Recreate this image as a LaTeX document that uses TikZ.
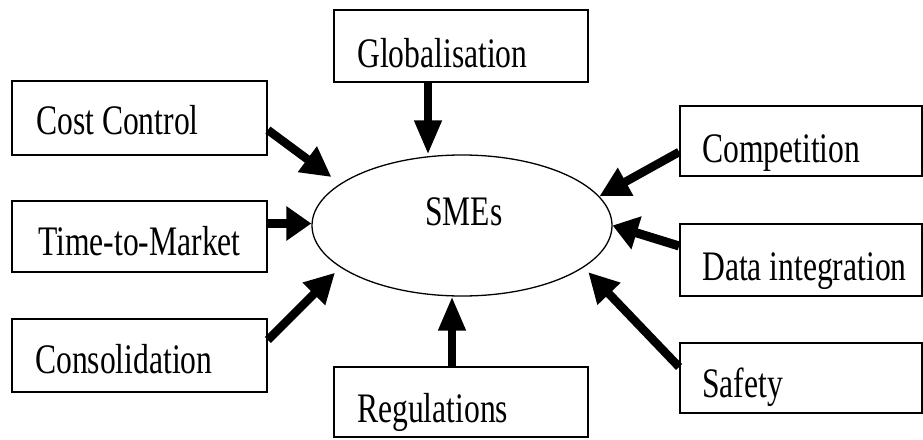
\documentclass[tikz,border=0pt]{standalone}
\usepackage{fontspec}
\setmainfont{Liberation Serif}
\usetikzlibrary{arrows.meta,shapes.geometric}
\newcommand{\stretchtxt}[1]{\scalebox{1}[1.33]{#1}}
\begin{document}
\begin{tikzpicture}[x=1pt,y=1pt,
  box/.style={draw,line width=1.8pt,rectangle,inner sep=0pt},
  lbl/.style={anchor=base west,inner sep=0pt,font=\fontsize{31.6}{36}\selectfont},
  hor/.style={line width=9pt,-{Triangle[length=25pt,width=33pt]}},
  ver/.style={line width=7.5pt,-{Triangle[length=34pt,width=26pt]}},
  dia/.style={line width=8.5pt,-{Triangle[length=30pt,width=30pt]}}]
\useasboundingbox (0,0) rectangle (923,-439);
% boxes
\node[box,minimum width=254pt,minimum height=72pt] (glob) at (461,-46) {};
\node[box,minimum width=255pt,minimum height=74pt] (cc) at (139.5,-118) {};
\node[box,minimum width=255pt,minimum height=71pt] (ttm) at (139.5,-236.5) {};
\node[box,minimum width=255pt,minimum height=73pt] (cons) at (139.5,-355.5) {};
\node[box,minimum width=254pt,minimum height=70pt] (reg) at (461,-402) {};
\node[box,minimum width=242pt,minimum height=70pt] (comp) at (801,-141) {};
\node[box,minimum width=242pt,minimum height=72pt] (di) at (801,-260) {};
\node[box,minimum width=242pt,minimum height=70pt] (safe) at (801,-378) {};
\node[draw,ellipse,line width=1.3pt,minimum width=300pt,minimum height=141pt,inner sep=0pt] (sme) at (462,-225.5) {};
% labels
\node[lbl] (tglob) at (357,-67) {\stretchtxt{Globalisation}};
\node[lbl] (tcc) at (36,-134) {\stretchtxt{Cost Control}};
\node[lbl] (tttm) at (38,-255) {\stretchtxt{Time-to-Market}};
\node[lbl] (tcons) at (35,-373) {\stretchtxt{Consolidation}};
\node[lbl] (treg) at (357,-422) {\stretchtxt{Regulations}};
\node[lbl] (tcomp) at (702,-162) {\stretchtxt{Competition}};
\node[lbl] (tdi) at (702,-280) {\stretchtxt{Data integration}};
\node[lbl] (tsafe) at (702,-397) {\stretchtxt{Safety}};
\node[lbl] (tsme) at (425,-225) {\stretchtxt{SMEs}};
% arrows
\draw[ver] ([xshift=-33pt]glob.south) -- ([xshift=-33pt]glob.south |- sme.north);
\draw[ver] ([xshift=-9pt]reg.north) -- ([xshift=-9pt]reg.north |- sme.south);
\draw[hor] ([yshift=13pt]ttm.east) -- ([yshift=13pt]ttm.east -| sme.west);
\draw[dia,shorten >=11pt] ([yshift=-12pt]cc.east) -- (sme.161);
\draw[dia,shorten >=7.5pt] ([yshift=15.5pt]cons.east) -- (sme.199);
\draw[dia] ([yshift=-11pt]comp.west) -- (sme.12);
\draw[hor] ([yshift=14pt]di.west) -- (sme.east);
\draw[dia,shorten >=6.6pt] ([yshift=11pt]safe.west) -- (sme.341);
\end{tikzpicture}
\end{document}
